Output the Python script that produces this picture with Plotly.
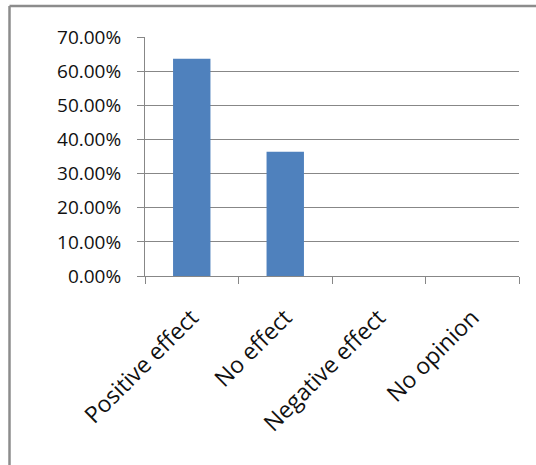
import plotly.graph_objects as go

# Survey responses
categories = ["Positive effect", "No effect", "Negative effect", "No opinion"]
shares = [0.6364, 0.3636, 0.0, 0.0]
y_ticks = [0.0, 0.1, 0.2, 0.3, 0.4, 0.5, 0.6, 0.7]

W, H = 536, 465
ML, MR, MT, MB = 145, 17, 37, 189
GRID = "#878787"
FONT = dict(family="Open Sans, Lato, sans-serif", size=19, color="#111111")

fig = go.Figure(
    go.Bar(
        x=categories,
        y=shares,
        marker=dict(color="#4f81bd", line=dict(width=0)),
        width=0.4,
    )
)

pw = W - ML - MR
ph = H - MT - MB
# outer chart frame: only its top and left edges fall inside the window
bx0 = (9.5 - ML) / pw
by1 = (H - MB - 6) / ph
fig.add_shape(type="line", xref="paper", yref="paper", x0=bx0, x1=(W + 5 - ML) / pw,
              y0=by1, y1=by1, line=dict(color="#8c8c8c", width=2.5))
fig.add_shape(type="line", xref="paper", yref="paper", x0=bx0, x1=bx0,
              y0=by1, y1=-(MB + 5) / ph, line=dict(color="#8c8c8c", width=2.5))

fig.update_layout(
    width=W,
    height=H,
    margin=dict(l=ML, r=MR, t=MT, b=MB),
    paper_bgcolor="white",
    plot_bgcolor="white",
    font=FONT,
    showlegend=False,
)
fig.update_yaxes(
    range=[0, 0.7],
    tickvals=y_ticks,
    tickformat=".2%",
    showgrid=True,
    gridcolor=GRID,
    gridwidth=1,
    showline=True,
    linecolor=GRID,
    linewidth=1,
    ticks="outside",
    ticklen=7,
    tickcolor=GRID,
    ticklabelstandoff=12,
    zeroline=False,
    fixedrange=True,
)
fig.update_xaxes(
    showline=True,
    linecolor=GRID,
    linewidth=1,
    ticks="outside",
    tickson="boundaries",
    ticklen=7,
    tickcolor=GRID,
    tickangle=-45,
    tickfont=dict(size=23),
    ticklabelstandoff=18,
    showgrid=False,
    fixedrange=True,
)

fig.write_html("out.html")
